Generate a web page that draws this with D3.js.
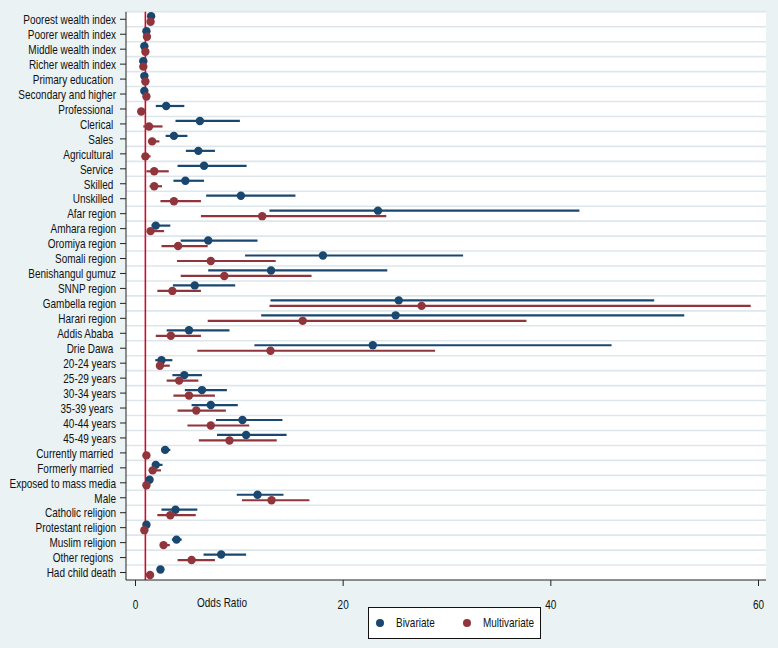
<!DOCTYPE html>
<html>
<head>
<meta charset="utf-8">
<script src="https://cdn.jsdelivr.net/npm/d3@7"></script>
<style>
  body { margin: 0; background: #eaf2f3; }
  text { font-family: "Liberation Sans", Arial, sans-serif; }
</style>
</head>
<body>
<div id="chart"></div>
<script>
// categories, top to bottom (trailing spaces as in the original labels)
const categories = [
  "Poorest wealth index", "Poorer wealth index", "Middle wealth index", "Richer wealth index",
  "Primary education ", "Secondary and higher", "Professional ", "Clerical ", "Sales ",
  "Agricultural ", "Service ", "Skilled ", "Unskilled ", "Afar region", "Amhara region",
  "Oromiya region", "Somali region", "Benishangul gumuz", "SNNP region", "Gambella region",
  "Harari region", "Addis Ababa ", "Drie Dawa ", "20-24 years", "25-29 years", "30-34 years",
  "35-39 years ", "40-44 years", "45-49 years", "Currently married ", "Formerly married ",
  "Exposed to mass media", "Male", "Catholic religion", "Protestant religion",
  "Muslim religion", "Other regions ", "Had child death"
]

// bivariate odds ratios and 95% CI
const biOR = [1.55, 1.1, 0.9, 0.8, 0.9, 0.9, 3.0, 6.25, 3.75, 6.1, 6.65, 4.85, 10.2, 23.4, 2.0,
  7.05, 18.1, 13.1, 5.75, 25.4, 25.1, 5.2, 22.9, 2.55, 4.75, 6.45, 7.3, 10.35, 10.7, 2.9, 2.0,
  1.4, 11.8, 3.9, 1.1, 4.0, 8.3, 2.45]
const biLo = [1.35, 0.95, 0.8, 0.7, 0.8, 0.75, 2.0, 3.9, 2.95, 4.9, 4.1, 3.7, 6.85, 12.95, 1.6,
  4.4, 10.6, 7.05, 3.65, 13.05, 12.15, 3.05, 11.5, 1.95, 3.6, 4.8, 5.45, 7.8, 7.9, 2.6, 1.7,
  1.2, 9.8, 2.55, 0.95, 3.55, 6.6, 2.2]
const biHi = [1.8, 1.25, 1.05, 0.95, 1.05, 1.05, 4.75, 10.1, 5.05, 7.7, 10.75, 6.65, 15.45, 42.8, 3.4,
  11.8, 31.6, 24.3, 9.65, 50.0, 52.9, 9.1, 45.9, 3.6, 6.45, 8.85, 9.9, 14.2, 14.6, 3.4, 2.65,
  1.6, 14.3, 6.0, 1.25, 4.5, 10.7, 2.7]

// multivariate odds ratios and 95% CI
const mvOR = [1.5, 1.15, 1.0, 0.8, 1.0, 1.1, 0.6, 1.35, 1.65, 1.0, 1.85, 1.85, 3.75, 12.25, 1.5,
  4.15, 7.3, 8.6, 3.6, 27.6, 16.15, 3.45, 13.05, 2.4, 4.25, 5.2, 5.9, 7.3, 9.1, 1.1, 1.7,
  1.1, 13.15, 3.4, 0.9, 2.75, 5.45, 1.45]
const mvLo = [1.25, 0.95, 0.85, 0.65, 0.85, 0.9, 0.4, 0.8, 1.3, 0.75, 1.1, 1.4, 2.45, 6.35, 1.2,
  2.55, 4.05, 4.4, 2.15, 12.95, 7.0, 2.0, 6.0, 2.1, 3.05, 3.7, 4.1, 5.05, 6.15, 0.95, 1.4,
  0.95, 10.3, 2.15, 0.75, 2.4, 4.1, 1.25]
const mvHi = [1.75, 1.4, 1.2, 1.0, 1.2, 1.35, 0.85, 2.65, 2.35, 1.5, 3.25, 2.6, 6.35, 24.2, 2.8,
  7.0, 13.55, 17.0, 6.35, 59.3, 37.7, 6.35, 28.9, 3.35, 6.1, 7.7, 8.75, 11.0, 13.65, 1.3, 2.5,
  1.25, 16.8, 5.85, 1.05, 3.35, 7.7, 1.65]

const xTicks = [0, 20, 40, 60]

const series = [
  { name: "Bivariate", or: biOR, lo: biLo, hi: biHi, color: "#1a476f", dy: -3 },
  { name: "Multivariate", or: mvOR, lo: mvLo, hi: mvHi, color: "#90353b", dy: 2.5 }
]

const W = 778, H = 648
const PLOT = { LEFT: 126, RIGHT: 766, TOP: 11.8, BOTTOM: 580 }
const SQUEEZE = 0.8   // the original uses a narrow face
const FONT = "12.5px"

// squeeze text horizontally, keeping its anchor point in place
function narrow(sel) {
  sel.each(function () {
    const t = d3.select(this)
    const x0 = +t.attr("x") || 0
    t.attr("x", x0 / SQUEEZE)
      .attr("transform", `scale(${SQUEEZE},1)`)
  })
}

const svg = d3.select("#chart").append("svg")
  .attr("width", W)
  .attr("height", H)

svg.append("rect")
  .attr("width", W).attr("height", H)
  .attr("fill", "#eaf2f3")

svg.append("rect")
  .attr("x", PLOT.LEFT).attr("y", PLOT.TOP)
  .attr("width", PLOT.RIGHT - PLOT.LEFT)
  .attr("height", PLOT.BOTTOM - PLOT.TOP)
  .attr("fill", "#ffffff")

// Scales
const x = d3.scaleLinear()
  .domain([0, 60])
  .range([135, 758])

const y = d3.scaleBand()
  .domain(categories)
  .range([PLOT.TOP, PLOT.BOTTOM])
  .padding(0)

const yc = d => y(d) + y.bandwidth() / 2

// grid between categories
svg.append("g")
  .selectAll("line")
  .data(categories)
  .enter().append("line")
  .attr("x1", PLOT.LEFT).attr("x2", PLOT.RIGHT)
  .attr("y1", d => y(d)).attr("y2", d => y(d))
  .attr("stroke", "#dde7eb")
  .attr("stroke-width", 1.6)

// reference line at OR = 1
svg.append("line")
  .attr("x1", x(1)).attr("x2", x(1))
  .attr("y1", PLOT.TOP).attr("y2", PLOT.BOTTOM)
  .attr("stroke", "#c8102e")
  .attr("stroke-width", 1.6)

// CIs and points
series.forEach(s => {
  const g = svg.append("g")
  g.selectAll("line")
    .data(categories)
    .enter().append("line")
    .attr("x1", (d, i) => x(s.lo[i]))
    .attr("x2", (d, i) => x(s.hi[i]))
    .attr("y1", d => yc(d) + s.dy)
    .attr("y2", d => yc(d) + s.dy)
    .attr("stroke", s.color)
    .attr("stroke-width", 2.2)
  g.selectAll("circle")
    .data(categories)
    .enter().append("circle")
    .attr("cx", (d, i) => x(s.or[i]))
    .attr("cy", d => yc(d) + s.dy)
    .attr("r", 4.2)
    .attr("fill", s.color)
})

// Y Axis
const yAxis = svg.append("g")
  .attr("transform", `translate(${PLOT.LEFT}, 0)`)
  .call(d3.axisLeft(y).tickSize(6).tickPadding(4))
yAxis.select(".domain").remove()
yAxis.selectAll("line").attr("stroke", "#222")
yAxis.selectAll("text")
  .attr("font-size", FONT)
  .attr("fill", "#111")
  .style("white-space", "pre")
  .attr("dy", "0.38em")
  .call(narrow)
yAxis.append("line")
  .attr("y1", PLOT.TOP).attr("y2", PLOT.BOTTOM)
  .attr("stroke", "#222")

// X Axis
const xAxis = svg.append("g")
  .attr("transform", `translate(0, ${PLOT.BOTTOM})`)
  .call(d3.axisBottom(x).tickValues(xTicks).tickSize(6).tickPadding(14))
xAxis.select(".domain").remove()
xAxis.selectAll("line").attr("stroke", "#222")
xAxis.selectAll("text")
  .attr("font-size", FONT)
  .attr("fill", "#111")
  .call(narrow)
xAxis.append("line")
  .attr("x1", PLOT.LEFT).attr("x2", PLOT.RIGHT)
  .attr("stroke", "#222")

// axis title
svg.append("text")
  .attr("x", 222)
  .attr("y", 607)
  .attr("text-anchor", "middle")
  .attr("font-size", FONT)
  .attr("fill", "#111")
  .text("Odds Ratio")
  .call(narrow)

// Legend
svg.append("rect")
  .attr("x", 368.5).attr("y", 607.5)
  .attr("width", 172).attr("height", 31)
  .attr("fill", "#ffffff")
  .attr("stroke", "#111")
  .attr("stroke-width", 1)
const legX = [380, 467]
series.forEach((s, i) => {
  svg.append("circle")
    .attr("cx", legX[i]).attr("cy", 623)
    .attr("r", 4)
    .attr("fill", s.color)
  svg.append("text")
    .attr("x", legX[i] + 16).attr("y", 627)
    .attr("font-size", FONT)
    .attr("fill", "#111")
    .text(s.name)
    .call(narrow)
})
</script>
</body>
</html>
